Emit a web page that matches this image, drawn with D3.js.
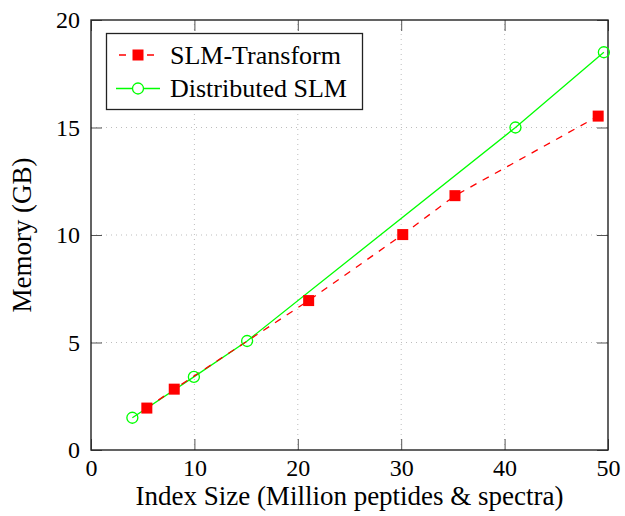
<!DOCTYPE html>
<html><head><meta charset="utf-8">
<script src="https://cdn.jsdelivr.net/npm/d3@7"></script>
<style>body{margin:0;background:#fff}svg{display:block}</style>
</head><body>
<div id="chart"></div>
<script>
const xTicks = [0, 10, 20, 30, 40, 50];
const yTicks = [0, 5, 10, 15, 20];
const transformX = [5.4, 8.05, 21.05, 30.15, 35.2, 49.05];
const transformY = [1.95, 2.83, 6.95, 10.02, 11.83, 15.53];
const distX = [4.0, 9.95, 15.1, 41.05, 49.6];
const distY = [1.5, 3.4, 5.07, 15.0, 18.5];
const seriesNames = ["SLM-Transform", "Distributed SLM"];

const W = 625, H = 516;
const m = {l: 91, r: 17, t: 20, b: 66};
const svg = d3.select("#chart").append("svg").attr("width", W).attr("height", H);
const x = d3.scaleLinear().domain([0, 50]).range([m.l, W - m.r]);
const y = d3.scaleLinear().domain([0, 20]).range([H - m.b, m.t]);
const serif = "Liberation Serif, Times New Roman, serif";

// grid
const g = svg.append("g");
g.selectAll(".gx").data(xTicks.slice(1, -1)).join("line")
  .attr("x1", d => x(d)).attr("x2", d => x(d)).attr("y1", y(0)).attr("y2", y(20))
  .attr("stroke", "#bdbdbd").attr("stroke-width", 1).attr("stroke-dasharray", "1,4");
g.selectAll(".gy").data(yTicks.slice(1, -1)).join("line")
  .attr("y1", d => y(d)).attr("y2", d => y(d)).attr("x1", x(0)).attr("x2", x(50))
  .attr("stroke", "#bdbdbd").attr("stroke-width", 1).attr("stroke-dasharray", "1,4");

// axes with inward ticks
const tl = 11;
const axB = svg.append("g").attr("transform", `translate(0,${y(0)})`)
  .call(d3.axisBottom(x).tickValues(xTicks).tickSize(-tl).tickPadding(9));
const axT = svg.append("g").attr("transform", `translate(0,${y(20)})`)
  .call(d3.axisTop(x).tickValues(xTicks).tickSize(-tl).tickFormat(""));
const axL = svg.append("g").attr("transform", `translate(${x(0)},0)`)
  .call(d3.axisLeft(y).tickValues(yTicks).tickSize(-tl).tickPadding(11));
const axR = svg.append("g").attr("transform", `translate(${x(50)},0)`)
  .call(d3.axisRight(y).tickValues(yTicks).tickSize(-tl).tickFormat(""));
[axB, axT, axL, axR].forEach(a => {
  a.attr("font-family", serif).attr("font-size", 24);
  a.select(".domain").remove();
  a.selectAll(".tick line").attr("stroke", "#555").attr("stroke-width", 1);
  a.selectAll("text").attr("font-family", serif).attr("font-size", 24).attr("fill", "#000");
});

// frame
svg.append("rect").attr("x", x(0)).attr("y", y(20)).attr("width", x(50) - x(0)).attr("height", y(0) - y(20))
  .attr("fill", "none").attr("stroke", "#222").attr("stroke-width", 1.4);

// series
const tData = transformX.map((v, i) => [v, transformY[i]]);
const dData = distX.map((v, i) => [v, distY[i]]);
const line = d3.line().x(d => x(d[0])).y(d => y(d[1]));
svg.append("path").datum(dData).attr("d", line).attr("fill", "none")
  .attr("stroke", "#00ff00").attr("stroke-width", 1.3);
svg.append("path").datum(tData).attr("d", line).attr("fill", "none")
  .attr("stroke", "#ff0000").attr("stroke-width", 1.3).attr("stroke-dasharray", "7,7");
const sq = 11;
svg.selectAll(".sq").data(tData).join("rect")
  .attr("x", d => x(d[0]) - sq / 2).attr("y", d => y(d[1]) - sq / 2)
  .attr("width", sq).attr("height", sq).attr("fill", "#ff0000");
svg.selectAll(".ci").data(dData).join("circle")
  .attr("cx", d => x(d[0])).attr("cy", d => y(d[1])).attr("r", 5.5)
  .attr("fill", "none").attr("stroke", "#00ff00").attr("stroke-width", 1.3);

// titles
svg.append("text").attr("x", (x(0) + x(50)) / 2).attr("y", 505)
  .attr("text-anchor", "middle").attr("font-family", serif).attr("font-size", 27)
  .text("Index Size (Million peptides & spectra)");
svg.append("text").attr("transform", `translate(31,${(y(0) + y(20)) / 2}) rotate(-90)`)
  .attr("text-anchor", "middle").attr("font-family", serif).attr("font-size", 27)
  .text("Memory (GB)");

// legend
const lg = svg.append("g");
lg.append("rect").attr("x", 106.5).attr("y", 33.5).attr("width", 256).attr("height", 76)
  .attr("fill", "#fff").attr("stroke", "#222").attr("stroke-width", 1.3);
const rows = [55, 88.5];
lg.append("line").attr("x1", 116).attr("x2", 160).attr("y1", rows[0]).attr("y2", rows[0])
  .attr("stroke", "#ff0000").attr("stroke-width", 1.3).attr("stroke-dasharray", "7,7").attr("stroke-dashoffset", -3);
lg.append("rect").attr("x", 138 - sq / 2).attr("y", rows[0] - sq / 2).attr("width", sq).attr("height", sq).attr("fill", "#ff0000");
lg.append("line").attr("x1", 116).attr("x2", 160).attr("y1", rows[1]).attr("y2", rows[1])
  .attr("stroke", "#00ff00").attr("stroke-width", 1.3);
lg.append("circle").attr("cx", 138).attr("cy", rows[1]).attr("r", 5.5).attr("fill", "#fff")
  .attr("stroke", "#00ff00").attr("stroke-width", 1.3);
lg.selectAll(".lt").data(seriesNames).join("text")
  .attr("x", 170).attr("y", (d, i) => rows[i] + 8.5)
  .attr("font-family", serif).attr("font-size", 26).text(d => d);
</script>
</body></html>
